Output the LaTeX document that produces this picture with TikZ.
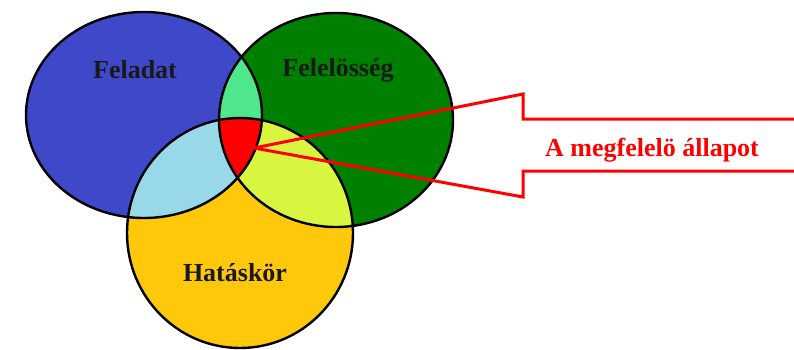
\documentclass[tikz,border=0pt]{standalone}
\usepackage{fontspec}
\setmainfont{Liberation Serif}
\definecolor{cblue}{RGB}{63,72,200}
\definecolor{cgreen}{RGB}{0,128,0}
\definecolor{cyellow}{RGB}{255,200,10}
\definecolor{clgreen}{RGB}{80,230,140}
\definecolor{clblue}{RGB}{152,216,232}
\definecolor{clyg}{RGB}{216,245,64}
\definecolor{cred}{RGB}{255,0,0}
\tikzset{
  lbl/.style={font=\fontsize{26}{30}\selectfont\bfseries, anchor=base, inner sep=0pt},
  outline/.style={draw=black, line width=2.4pt},
  arrowline/.style={draw=cred, line width=3pt, line join=miter},
}
\begin{document}
\begin{tikzpicture}[x=1pt,y=-1pt]
\useasboundingbox (0,0) rectangle (794,350);
\def\blueE{(144,115) ellipse [x radius=118pt, y radius=103pt]}
\def\greenE{(336,120) ellipse [x radius=117pt, y radius=107pt]}
\def\yellowE{(240,233) ellipse [x radius=113pt, y radius=115pt]}
% base fills
\fill[cblue] \blueE;
\fill[cgreen] \greenE;
\fill[cyellow] \yellowE;
% pairwise intersections
\begin{scope}\clip \blueE; \fill[clgreen] \greenE; \end{scope}
\begin{scope}\clip \blueE; \fill[clblue] \yellowE; \end{scope}
\begin{scope}\clip \greenE; \fill[clyg] \yellowE; \end{scope}
\begin{scope}\clip \blueE; \clip \greenE; \fill[cred] \yellowE; \end{scope}
% outlines
\draw[outline] \blueE;
\draw[outline] \greenE;
\draw[outline] \yellowE;
% arrow
\coordinate (tip) at (254,148);
\coordinate (ut) at (523,94);
\coordinate (ui) at (523,119);
\coordinate (ue) at (796,119);
\coordinate (lt) at (523,197);
\coordinate (li) at (523,171);
\coordinate (le) at (796,171);
\draw[arrowline] (ue) -- (ui) -- (ut) -- (tip) -- (lt) -- (li) -- (le);
% labels
\node[lbl, text=black!90] (feladat) at (135,79) {Feladat};
\node[lbl, text=black!90] (felelosseg) at (338,77) {Felelösség};
\node[lbl, text=black!90] (hataskor) at (235,281) {Hatáskör};
\node[lbl, text=cred] (allapot) at (652,156) {A megfelelö állapot};
\end{tikzpicture}
\end{document}
